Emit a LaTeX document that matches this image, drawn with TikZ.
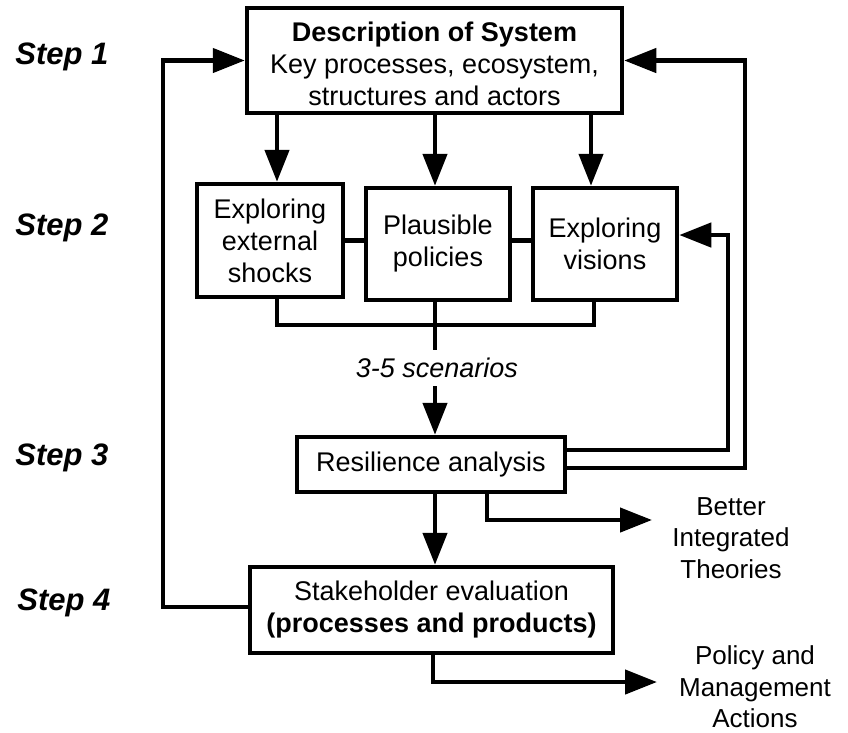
\documentclass[tikz,border=0pt]{standalone}
\usepackage{fontspec}
\setmainfont{Liberation Sans}
\usetikzlibrary{arrows.meta}
\begin{document}
\begin{tikzpicture}[x=1pt,y=-1pt,
  box/.style={draw, line width=4.5pt, align=center, inner sep=0pt, font=\fontsize{27}{32}\selectfont},
  ln/.style={line width=4.5pt},
  arr/.style={line width=4.5pt, -{Triangle[length=32pt,width=24pt]}},
  steplbl/.style={font=\fontsize{31}{36}\selectfont\bfseries\itshape},
  txt/.style={align=center, font=\fontsize{26}{31.5}\selectfont}]
\useasboundingbox (0,0) rectangle (848,732);

% step labels
\node[steplbl] (s1) at (62,57) {Step 1};
\node[steplbl] (s2) at (62,228) {Step 2};
\node[steplbl] (s3) at (62,458) {Step 3};
\node[steplbl] (s4) at (64,603) {Step 4};

% boxes
\node[box, minimum width=375pt, minimum height=105pt] (sys) at (434.5,60.5)
  {\rule{0pt}{27pt}\textbf{Description of System}\\Key processes, ecosystem,\\structures and actors};
\node[box, minimum width=146pt, minimum height=113pt] (shock) at (270,240.5)
  {Exploring\\external\\shocks};
\node[box, minimum width=144pt, minimum height=112pt] (pol) at (438,244)
  {Plausible\\policies};
\node[box, minimum width=144pt, minimum height=112pt] (vis) at (605,244)
  {Exploring\\visions};
\node[box, minimum width=268pt, minimum height=55pt] (res) at (431,464.5)
  {Resilience analysis};
\node[box, minimum width=363pt, minimum height=86pt] (stk) at (431.5,610)
  {Stakeholder evaluation\\\textbf{(processes and products)}};

\node[font=\itshape\fontsize{27}{32}\selectfont, inner sep=8pt] (scen) at (437,368) {3-5 scenarios};
\node[txt] (better) at (731,538) {Better\\Integrated\\Theories};
\node[txt] (policy) at (755,687) {Policy and\\Management\\Actions};

% helper coordinates
\coordinate (xA) at (277,0);
\coordinate (xB) at (435,0);
\coordinate (xC) at (594,0);
\coordinate (xD) at (591,0);
\coordinate (xE) at (487,0);
\coordinate (xF) at (433,0);
\coordinate (jA) at (277,325);
\coordinate (jC) at (594,325);
\coordinate (lL) at (163,607);
\coordinate (lLt) at (163,60.5);
\coordinate (oR) at (745,468);
\coordinate (oRt) at (745,60.5);
\coordinate (iR) at (728,450);
\coordinate (iRt) at (728,235);
\coordinate (bc) at (487,520);
\coordinate (bt) at (652,520);
\coordinate (pc) at (433,682);
\coordinate (pt) at (657,682);

% arrows from description to step 2 boxes
\draw[arr] (sys.south -| xA) -- (shock.north -| xA);
\draw[arr] (sys.south -| xB) -- (pol.north -| xB);
\draw[arr] (sys.south -| xD) -- (vis.north -| xD);

% links between step 2 boxes
\draw[ln] (shock.east) -- (pol.west |- shock.east);
\draw[ln] (pol.east |- shock.east) -- (vis.west |- shock.east);

% merge into scenarios
\draw[ln] (shock.south -| xA) -- (jA) -- (jC) -- (vis.south -| xC);
\draw[ln] (pol.south -| xB) -- (scen.north -| xB);
\draw[arr] (scen.south -| xB) -- (res.north -| xB);

% resilience to stakeholder
\draw[arr] (res.south -| xB) -- (stk.north -| xB);

% feedback loops
\draw[arr] (res.east |- oR) -- (oR) -- (oRt) -- (sys.east);
\draw[arr] (res.east |- iR) -- (iR) -- (iRt) -- (vis.east |- iRt);
\draw[arr] (stk.west |- lL) -- (lL) -- (lLt) -- (sys.west);

% outputs
\draw[arr] (res.south -| xE) -- (bc) -- (bt);
\draw[arr] (stk.south -| xF) -- (pc) -- (pt);
\end{tikzpicture}
\end{document}
